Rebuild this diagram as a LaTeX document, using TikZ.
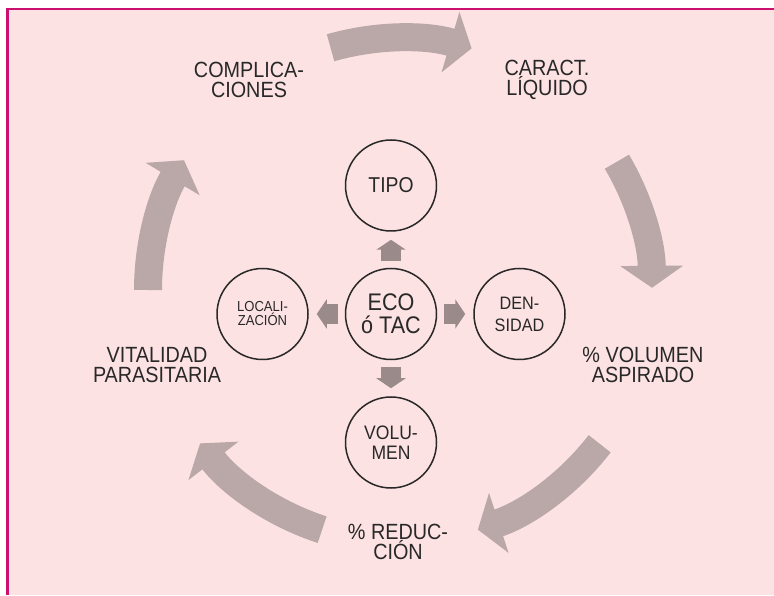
\documentclass[tikz,border=0pt]{standalone}
\usepackage{fontspec}
\setmainfont{Liberation Sans}[FakeStretch=0.9]
\usetikzlibrary{arrows.meta,positioning}
\definecolor{cyframe}{RGB}{204,16,112}
\definecolor{cybg}{RGB}{253,226,227}
\definecolor{cyarr}{RGB}{186,167,167}
\definecolor{cysm}{RGB}{155,138,138}
\definecolor{cyink}{RGB}{40,40,40}
\tikzset{
  stage/.style={
    font=\fontsize{22}{20}\selectfont, text=cyink, align=center, inner sep=0pt
  },
  ball/.style={
    circle, draw=cyink, line width=1.5pt, minimum size=91pt,
    inner sep=0pt, align=center, text=cyink
  },
  cyclearr/.style={draw=cyarr, line width=28pt, -{Triangle[length=22pt,width=62pt]}},
  spoke/.style={
    draw=cysm, line width=20pt, -{Triangle[length=10pt,width=29pt]},
    shorten <=7pt, shorten >=8pt
  }
}
\begin{document}
\begin{tikzpicture}[x=1pt,y=1pt]
  \useasboundingbox (0,0) rectangle (774,595);
  \fill[cybg] (7.5,0) rectangle (774,586);
  \draw[cyframe, line width=2.5pt] (7.5,0) -- (7.5,586) -- (774,586);
  % outer cycle
  \coordinate (cyc) at (400,305);
  \foreach \a/\b in {106/73.5, 30.6/0.5, -37.6/-72, -108/-142.5, 180/149} {
    \draw[cyclearr] ([shift={(\a:252)}]cyc) arc[start angle=\a, end angle=\b, radius=252];
  }
  \node[stage] (compl) at (249,515) {COMPLICA-\\CIONES};
  \node[stage] (caract) at (547,515) {CARACT.\\LÍQUIDO};
  \node[stage] (aspir) at (643,230) {\% VOLUMEN\\ASPIRADO};
  \node[stage] (reduc) at (398,53) {\% REDUC-\\CIÓN};
  \node[stage] (vital) at (157,230) {VITALIDAD\\PARASITARIA};
  % centre and spokes
  \node[ball, font=\fontsize{24}{23}\selectfont] (eco) at (391,281) {ECO\\ó TAC};
  \node[ball, above=36pt of eco, font=\fontsize{21.5}{20}\selectfont] (tipo) {TIPO};
  \node[ball, right=36pt of eco, font=\fontsize{18}{22}\selectfont] (dens) {DEN-\\SIDAD};
  \node[ball, below=36pt of eco, font=\fontsize{19.5}{19.5}\selectfont] (volu) {VOLU-\\MEN};
  \node[ball, left=36pt of eco, font=\fontsize{14.5}{14}\selectfont] (local) {LOCALI-\\ZACIÓN};
  \foreach \n in {tipo,dens,volu,local}
    \draw[spoke] (eco) -- (\n);
\end{tikzpicture}
\end{document}
